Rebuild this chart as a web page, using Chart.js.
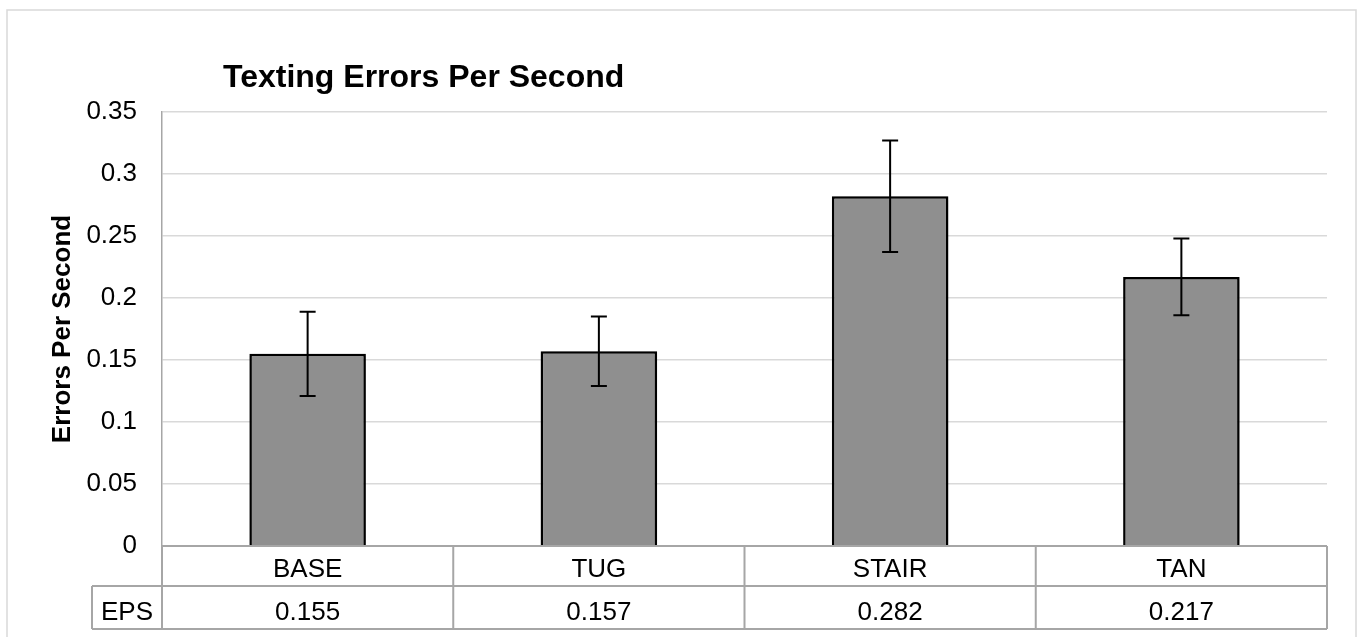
<!DOCTYPE html>
<html>
<head>
<meta charset="utf-8">
<script src="https://cdn.jsdelivr.net/npm/chart.js@4.4.1/dist/chart.umd.min.js"></script>
<style>
  html, body { margin: 0; padding: 0; background: #ffffff; }
  #wrap { position: relative; width: 1363px; height: 637px; }
</style>
</head>
<body>
<div id="wrap"><canvas id="c" width="1363" height="637"></canvas></div>
<script>
// ---- data ----
const categories = ['BASE', 'TUG', 'STAIR', 'TAN'];
const epsValues = [0.155, 0.157, 0.282, 0.217];
const errorValues = [0.034, 0.028, 0.045, 0.031];
const tableRowLabel = 'EPS';
const tableValueLabels = ['0.155', '0.157', '0.282', '0.217'];
const yMin = 0, yMax = 0.35, yStep = 0.05;
const chartTitle = 'Texting Errors Per Second';
const yAxisTitle = 'Errors Per Second';

const FONT = '"Liberation Sans", Arial, Helvetica, sans-serif';

const framePlugin = {
  id: 'frame',
  beforeDraw(chart) {
    const ctx = chart.ctx;
    ctx.save();
    ctx.fillStyle = '#ffffff';
    ctx.fillRect(0, 0, chart.width, chart.height);
    ctx.strokeStyle = '#d9d9d9';
    ctx.lineWidth = 1.5;
    ctx.strokeRect(7, 10, chart.width - 14, chart.height + 40);
    ctx.restore();
  }
};

const shadowPlugin = {
  id: 'barShadow',
  beforeDatasetsDraw(chart) {
    const ctx = chart.ctx;
    ctx.save();
    ctx.shadowColor = 'rgba(0,0,0,0.35)';
    ctx.shadowBlur = 6;
    ctx.shadowOffsetX = 2;
    ctx.shadowOffsetY = 1;
  },
  afterDatasetsDraw(chart) {
    chart.ctx.restore();
  }
};

const errorBarPlugin = {
  id: 'errorBars',
  afterDatasetsDraw(chart) {
    const ctx = chart.ctx;
    const y = chart.scales.y;
    const meta = chart.getDatasetMeta(0);
    ctx.save();
    ctx.strokeStyle = '#000000';
    ctx.lineWidth = 2;
    meta.data.forEach((bar, i) => {
      const v = epsValues[i], e = errorValues[i];
      const yt = y.getPixelForValue(v + e);
      const yb = y.getPixelForValue(v - e);
      const x = bar.x;
      const cap = 8;
      ctx.beginPath();
      ctx.moveTo(x, yt); ctx.lineTo(x, yb);
      ctx.moveTo(x - cap, yt); ctx.lineTo(x + cap, yt);
      ctx.moveTo(x - cap, yb); ctx.lineTo(x + cap, yb);
      ctx.stroke();
    });
    ctx.restore();
  }
};

const tablePlugin = {
  id: 'dataTable',
  afterDraw(chart) {
    const ctx = chart.ctx;
    const area = chart.chartArea;
    const n = categories.length;
    const colW = (area.right - area.left) / n;
    const r0 = area.bottom;
    const r1 = r0 + 40;
    const r2 = r1 + 43;
    const labelLeft = 92;
    ctx.save();
    ctx.strokeStyle = '#a6a6a6';
    ctx.lineWidth = 2;
    ctx.beginPath();
    ctx.moveTo(area.left, r0); ctx.lineTo(area.right, r0);
    ctx.moveTo(labelLeft, r1); ctx.lineTo(area.right, r1);
    ctx.moveTo(labelLeft, r2); ctx.lineTo(area.right, r2);
    for (let i = 0; i <= n; i++) {
      const x = area.left + i * colW;
      ctx.moveTo(x, r0); ctx.lineTo(x, r2);
    }
    ctx.moveTo(labelLeft, r1); ctx.lineTo(labelLeft, r2);
    ctx.stroke();

    ctx.fillStyle = '#000000';
    ctx.font = '26px ' + FONT;
    ctx.textAlign = 'center';
    ctx.textBaseline = 'alphabetic';
    categories.forEach((c, i) => {
      const x = chart.scales.x.getPixelForValue(i);
      ctx.fillText(c, x, r0 + 31);
      ctx.fillText(tableValueLabels[i], x, r1 + 34);
    });
    ctx.fillText(tableRowLabel, (labelLeft + area.left) / 2, r1 + 34);
    ctx.restore();
  }
};

const titlePlugin = {
  id: 'leftTitle',
  afterDraw(chart) {
    const ctx = chart.ctx;
    const area = chart.chartArea;
    ctx.save();
    ctx.fillStyle = '#000000';
    ctx.font = 'bold 32px ' + FONT;
    ctx.textAlign = 'left';
    ctx.textBaseline = 'alphabetic';
    ctx.fillText(chartTitle, area.left + 61, area.top - 25);
    ctx.restore();
  }
};

new Chart(document.getElementById('c'), {
  type: 'bar',
  data: {
    labels: categories,
    datasets: [{
      label: tableRowLabel,
      data: epsValues,
      backgroundColor: '#8f8f8f',
      borderColor: '#000000',
      borderWidth: 2.5,
      borderSkipped: 'bottom',
      categoryPercentage: 1.0,
      barPercentage: 0.4
    }]
  },
  options: {
    responsive: false,
    animation: false,
    devicePixelRatio: 1,
    layout: { padding: { left: 0, top: 112, right: 36, bottom: 91 } },
    plugins: {
      legend: { display: false },
      title: { display: false },
      tooltip: { enabled: false }
    },
    scales: {
      x: {
        display: false
      },
      y: {
        min: yMin,
        max: yMax,
        afterFit(scale) { scale.width = 162; },
        ticks: {
          stepSize: yStep,
          padding: 25,
          color: '#000000',
          font: { family: FONT, size: 26 },
          callback: (v) => String(parseFloat(Number(v).toFixed(2)))
        },
        grid: { color: '#d9d9d9', lineWidth: 1.5, drawTicks: false },
        border: { display: true, color: '#a6a6a6', width: 1.5 },
        title: {
          display: true,
          text: yAxisTitle,
          color: '#000000',
          font: { family: FONT, size: 26, weight: 'bold' },
          padding: { top: 47, bottom: 0 }
        }
      }
    }
  },
  plugins: [framePlugin, shadowPlugin, errorBarPlugin, tablePlugin, titlePlugin]
});
</script>
</body>
</html>
